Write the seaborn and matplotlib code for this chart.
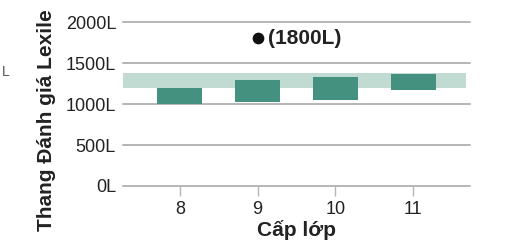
import matplotlib
matplotlib.use('Agg')
import matplotlib.pyplot as plt
import seaborn as sns
import pandas as pd

# Lexile ranges per grade
grades = ['8', '9', '10', '11']
low = [1005, 1030, 1050, 1170]
high = [1190, 1295, 1332, 1370]

# college/career target band and the outlier point
band_low, band_high = 1190, 1380
point_grade = '9'
point_value = 1800
point_label = '(1800L)'

y_ticks = [0, 500, 1000, 1500, 2000]
y_tick_labels = ['0L', '500L', '1000L', '1500L', '2000L']

sns.set_theme(style='white')
plt.rcParams['font.family'] = ['Liberation Sans', 'DejaVu Sans']

df = pd.DataFrame({'grade': grades, 'low': low, 'high': high})
df['span'] = df['high'] - df['low']

fig = plt.figure(figsize=(5.1, 2.49), dpi=100)
ax = fig.add_axes([123 / 510, 1 - 186 / 249, 347 / 510, 164 / 249])

ax.axhspan(band_low, band_high, xmin=0, xmax=0.988, color='#c2dbd2', lw=0, zorder=1)
sns.barplot(data=df, x='grade', y='span', bottom=df['low'], color='#45917f',
            saturation=1, width=0.58, linewidth=0, ax=ax, zorder=2)

px = grades.index(point_grade)
ax.scatter([px], [point_value], s=55, color='#111111', zorder=3)
ax.text(px + 0.14, point_value, point_label, fontsize=15, fontweight='bold',
        va='center', ha='left', color='#222222')

ax.set_xlim(-0.73, 3.73)
ax.set_ylim(0, 2000)
ax.set_yticks(y_ticks)
ax.set_yticklabels(y_tick_labels)
ax.grid(axis='y', color='#b5b5b5', lw=1.4)
for line in ax.get_ygridlines():
    line.set_clip_on(False)
ax.set_axisbelow(True)
for s in ax.spines.values():
    s.set_visible(False)

ax.tick_params(axis='y', length=0, pad=5, labelsize=13, labelcolor='#222222')
ax.tick_params(axis='x', bottom=True, length=7, width=1, color='#b5b5b5',
               pad=4, labelsize=13, labelcolor='#222222')

ax.set_xlabel('Cấp lớp', fontsize=15, fontweight='bold', color='#222222', labelpad=1)
ax.set_ylabel('Thang Đánh giá Lexile', fontsize=15, fontweight='bold', color='#222222')
ax.yaxis.set_label_coords(-0.193, 0.4)

fig.text(2 / 510, 1 - 72 / 249, 'L', fontsize=10, color='#555555', va='center')

fig.savefig('out.png', dpi=100)
